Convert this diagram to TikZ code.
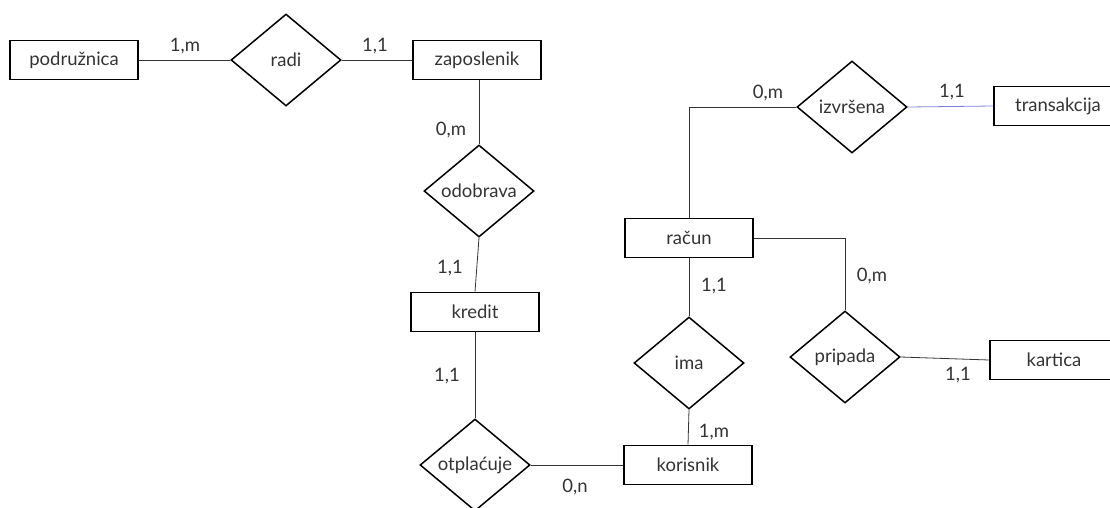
\documentclass[tikz,border=0pt]{standalone}
\usepackage{fontspec}
\setmainfont{Lato}
\usetikzlibrary{shapes.geometric}
\definecolor{linegray}{HTML}{333333}
\definecolor{linkblue}{HTML}{8080E0}
\begin{document}
\begin{tikzpicture}[x=1pt,y=-1pt,font=\fontsize{18.5}{22}\selectfont,text=linegray,
    entity/.style={draw=black,line width=1.6pt,minimum width=128pt,minimum height=39pt,inner sep=0pt},
    relation/.style={draw=black,diamond,line width=1.5pt,minimum width=110pt,minimum height=92pt,inner sep=0pt,aspect=1.2},
    link/.style={draw=linegray,line width=0.8pt},
    card/.style={inner sep=0pt}]
        \useasboundingbox (0,0) rectangle (1110,507);
        % entiteti
        \node [entity] (podruznica) at (74,60) {podružnica};
        \node [entity] (zaposlenik) at (477,60) {zaposlenik};
        \node [entity] (kredit) at (475,312) {kredit};
        \node [entity] (korisnik) at (688,465) {korisnik};
        \node [entity] (racun) at (689,238) {račun};
        \node [entity] (transakcija) at (1058,106) {transakcija};
        \node [entity] (kartica) at (1054,360) {kartica};
        % veze
        \node [relation] (radi) at (286,60) {radi};
        \node [relation] (odobrava) at (479,191) {odobrava};
        \node [relation] (otplacuje) at (475,465) {otplaćuje};
        \node [relation] (ima) at (689,363) {ima};
        \node [relation] (izvrsena) at (852,107) {izvršena};
        \node [relation] (pripada) at (845,357) {pripada};
        % linije
        \draw [link] (podruznica) -- (radi);
        \draw [link] (radi.east) -- (zaposlenik.west);
        \draw [link] (zaposlenik.south -| odobrava.north) -- (odobrava.north);
        \draw [link] (odobrava.south) -- (kredit.north);
        \draw [link] (kredit.south) -- (otplacuje.north);
        \draw [link] (otplacuje) -- (korisnik);
        \draw [link] (korisnik.north) -- (ima.south);
        \draw [link] (ima.north) -- (racun.south);
        \draw [link] (racun.north) |- (izvrsena.west);
        \draw [link,draw=linkblue] (izvrsena.east) -- (transakcija.west);
        \draw [link] (racun.east) -| (pripada.north);
        \draw [link] (pripada.east) -- (kartica.west);
        % kardinalnosti
        \node [card] (c1) at (185,46) {1,m};
        \node [card] (c2) at (375,46) {1,1};
        \node [card] (c3) at (451,130) {0,m};
        \node [card] (c4) at (450,268) {1,1};
        \node [card] (c5) at (447,376) {1,1};
        \node [card] (c6) at (575,487) {0,n};
        \node [card] (c7) at (714,432) {1,m};
        \node [card] (c8) at (714,286) {1,1};
        \node [card] (c9) at (768,93) {0,m};
        \node [card] (c10) at (952,92) {1,1};
        \node [card] (c11) at (872,276) {0,m};
        \node [card] (c12) at (958,375) {1,1};
      \end{tikzpicture}
\end{document}
